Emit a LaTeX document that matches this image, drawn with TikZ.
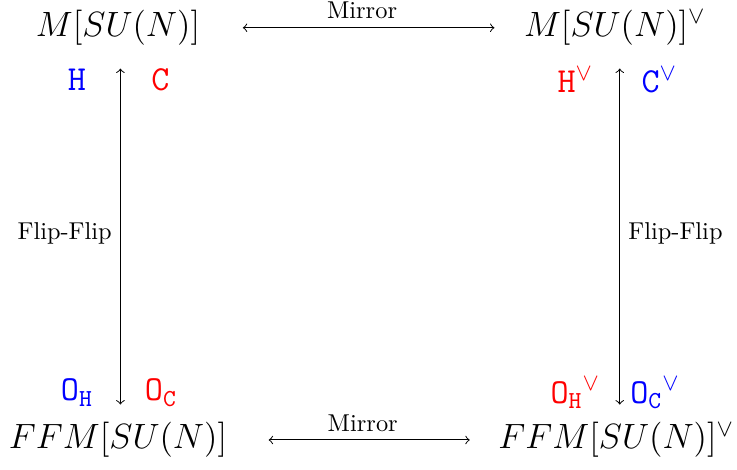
\documentclass[tikz,border=0pt]{standalone}
\usetikzlibrary{positioning}
\begin{document}
\begin{tikzpicture}[
    theory/.style={font=\Large},
    chargelabel/.style={font=\Large},
    arrowlabel/.style={font=\normalsize},
  ]
    \useasboundingbox (0,0) rectangle (10.62,-6.76);

    % The four theories (corners of the square)
    \node[theory] (tl) at (1.70,-0.40) {$M[SU(N)]$};
    \node[theory] (tr) at (8.86,-0.40) {$M[SU(N)]^\vee$};
    \node[theory] (bl) at (1.70,-6.34) {$FFM[SU(N)]$};
    \node[theory] (br) at (8.88,-6.34) {$FFM[SU(N)]^\vee$};

    % Mirror maps (horizontal)
    \draw[<->, shorten <=14pt, shorten >=8.6pt] (tl) -- node[arrowlabel, above] {Mirror} (tr);
    \draw[<->, shorten <=13.5pt, shorten >=8.2pt] (bl) -- node[arrowlabel, above] {Mirror} (br);

    % Flip-Flip maps (vertical)
    \draw[<->, shorten <=6pt, shorten >=3.8pt] ([xshift=1pt]tl.south) -- node[arrowlabel, left] {Flip-Flip} ([xshift=1pt]tl.south |- bl.north);
    \draw[<->, shorten <=6pt, shorten >=3.8pt] ([xshift=2pt]tr.south) -- node[arrowlabel, right] {Flip-Flip} ([xshift=2pt]tr.south |- br.north);

    % Charges on the left side
    \node[chargelabel, blue] (hl) at (1.11,-1.15) {$\mathtt{H}$};
    \node[chargelabel, red] (cl) at (2.31,-1.15) {$\mathtt{C}$};
    \node[chargelabel, blue] (ohl) at (1.11,-5.66) {$\mathtt{O}_\mathtt{H}$};
    \node[chargelabel, red] (ocl) at (2.32,-5.66) {$\mathtt{O}_\mathtt{C}$};

    % Charges on the right side (mirror dual)
    \node[chargelabel, red] (hr) at (8.29,-1.15) {$\mathtt{H}^\vee$};
    \node[chargelabel, blue] (cr) at (9.50,-1.15) {$\mathtt{C}^\vee$};
    \node[chargelabel, red] (ohr) at (8.29,-5.66) {${\mathtt{O}_\mathtt{H}}^\vee$};
    \node[chargelabel, blue] (ocr) at (9.44,-5.66) {${\mathtt{O}_\mathtt{C}}^\vee$};
\end{tikzpicture}
\end{document}
